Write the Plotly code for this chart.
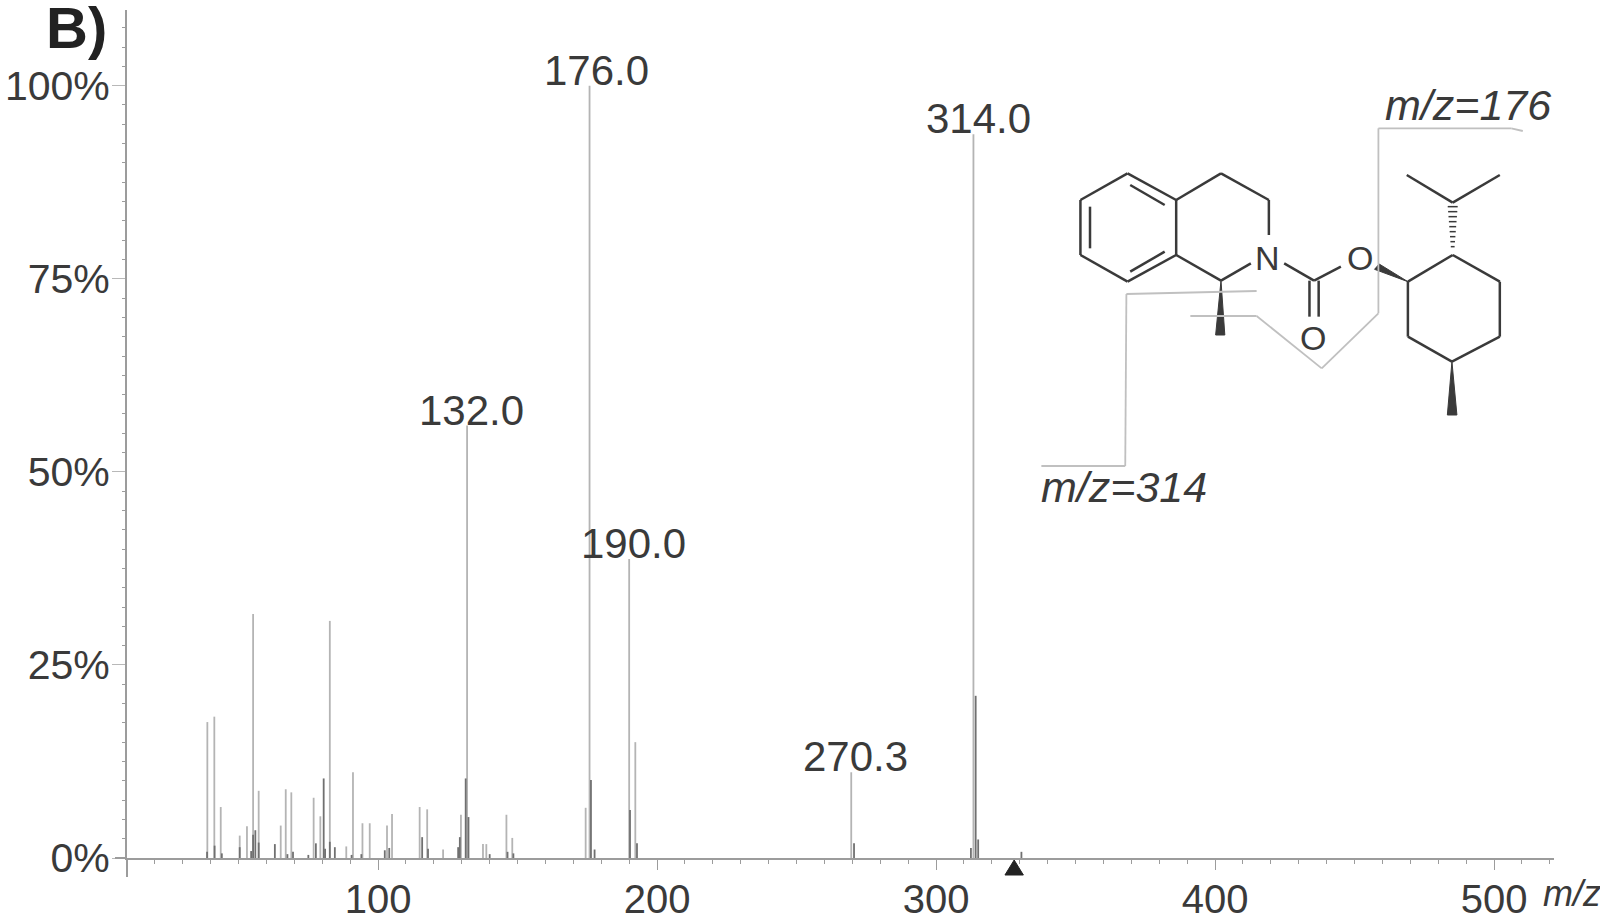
import plotly.graph_objects as go

# peaks: m/z and relative intensity (%)
light_mz = [38.8, 41.3, 43.6, 50.4, 53.0, 55.2, 57.2, 65.1, 66.9, 68.9, 76.9, 79.3, 82.7, 88.6, 91.0, 94.4, 97.0,
            103.2, 105.0, 114.9, 117.6, 123.3, 129.7, 131.9, 137.6, 138.8, 146.0, 148.1, 174.4, 175.8, 190.0, 192.2,
            269.6, 313.4]
light_int = [17.6, 18.3, 6.6, 2.9, 4.1, 31.6, 8.7, 4.2, 8.9, 8.5, 7.8, 5.4, 30.7, 1.5, 11.1, 4.5, 4.5,
             4.2, 5.7, 6.6, 6.3, 1.1, 5.6, 56.0, 1.8, 1.8, 5.6, 2.6, 6.5, 100.0, 38.7, 15.0,
             11.1, 93.7]
dark_mz = [38.7, 41.4, 44.0, 50.4, 54.5, 55.2, 56.0, 57.2, 63.0, 67.5, 69.5, 75.0, 77.7, 80.5, 81.0, 82.7, 84.5,
           90.5, 94.0, 102.4, 104.0, 115.8, 117.9, 128.7, 129.3, 131.4, 132.4, 140.0, 146.4, 148.5,
           176.3, 177.6, 190.3, 192.8, 270.6, 312.5, 314.2, 315.1, 330.6]
dark_int = [0.8, 1.6, 0.6, 1.4, 0.9, 3.0, 3.6, 2.0, 1.8, 0.5, 0.8, 0.4, 1.9, 10.3, 1.2, 2.1, 1.4,
            0.4, 0.5, 1.0, 1.3, 2.7, 1.2, 1.4, 2.7, 10.3, 5.3, 0.5, 0.8, 0.6,
            10.1, 1.1, 6.2, 1.9, 1.9, 1.3, 21.0, 2.4, 0.8]

label_mz = [132.0, 176.8, 190.0, 269.6, 313.7]
label_int = [56.0, 100.0, 38.7, 11.1, 93.7]
label_text = ["132.0", "176.0", "190.0", "270.3", "314.0"]

y_ticks = [0, 25, 50, 75, 100]
y_tick_text = ["0%", "25%", "50%", "75%", "100%"]
x_ticks = [100, 200, 300, 400, 500]

precursor_mz = 328.0

W, H = 1600, 913
INK = "#3a3a3a"
AXIS = "#9c9c9c"
LEADER = "#c0c0c0"


def sticks(xs, ys):
    px, py = [], []
    for x, y in zip(xs, ys):
        px += [x, x, None]
        py += [0, y, None]
    return px, py


def zx(v):
    # structure sketch is measured off the crop starting at (1000, 70)
    return (1000 + v * 0.383) / W


def zy(v):
    return 1 - (70 + v / 3) / H


def polyline(fig, pts, color=INK, width=2.5):
    for a, b in zip(pts[:-1], pts[1:]):
        fig.add_shape(type="line", xref="paper", yref="paper", x0=zx(a[0]), y0=zy(a[1]), x1=zx(b[0]), y1=zy(b[1]),
                      line=dict(color=color, width=width))


def wedge(fig, pts):
    d = "M " + " L ".join(f"{zx(x)} {zy(y)}" for x, y in pts) + " Z"
    fig.add_shape(type="path", xref="paper", yref="paper", path=d, fillcolor=INK, line=dict(color=INK, width=1))


fig = go.Figure()

x, y = sticks(light_mz, light_int)
fig.add_trace(go.Scatter(x=x, y=y, mode="lines", line=dict(color="#b4b4b4", width=1.8), hoverinfo="skip"))
x, y = sticks(dark_mz, dark_int)
fig.add_trace(go.Scatter(x=x, y=y, mode="lines", line=dict(color="#707070", width=1.8), hoverinfo="skip"))

fig.update_layout(
    width=W, height=H, showlegend=False, plot_bgcolor="white", paper_bgcolor="white",
    margin=dict(l=0, r=0, t=0, b=0), autosize=False,
    font=dict(family="Liberation Sans", size=41, color=INK),
    xaxis=dict(domain=[127 / W, 1554 / W], range=[10, 521.5], showgrid=False, zeroline=False, showline=True,
               automargin=False,
               linecolor=AXIS, linewidth=2, tickvals=x_ticks, ticks="outside", ticklen=10, tickcolor=AXIS, tickwidth=1,
               ticklabelstandoff=-5, tickfont=dict(size=40),
               minor=dict(dtick=10, tick0=0, ticks="outside", ticklen=4, tickcolor=AXIS, tickwidth=1)),
    yaxis=dict(domain=[1 - 858 / H, 1 - 10 / H], range=[0, 109.8], showgrid=False, zeroline=False, showline=True,
               automargin=False,
               linecolor=AXIS, linewidth=2, tickvals=y_ticks, ticktext=y_tick_text, ticks="outside", ticklen=13,
               tickcolor="#b8b8b8", tickwidth=1, ticklabelstandoff=-6,
               minor=dict(dtick=2.5, tick0=0, ticks="outside", ticklen=3, tickcolor=AXIS, tickwidth=1)),
)

# axis stubs past the origin
fig.add_shape(type="line", xref="paper", yref="paper", x0=127 / W, x1=127 / W, y0=1 - 858 / H, y1=1 - 877 / H,
              line=dict(color=AXIS, width=2))
fig.add_shape(type="line", xref="paper", yref="paper", x0=115 / W, x1=127 / W, y0=1 - 858 / H, y1=1 - 858 / H,
              line=dict(color=AXIS, width=2))

# precursor marker under the axis
fig.add_shape(type="path", xref="x", yref="paper", fillcolor="#222222", line=dict(color="#222222", width=1),
              path=f"M {precursor_mz - 3.3} {1 - 875 / H} L {precursor_mz} {1 - 860 / H} L {precursor_mz + 3.3} {1 - 875 / H} Z")

for mz, val, txt in zip(label_mz, label_int, label_text):
    fig.add_annotation(x=mz, y=val, text=txt, showarrow=False, xanchor="center", yanchor="bottom",
                       xshift=4, yshift=-10, font=dict(size=42, color=INK))

# structure: aromatic ring and fused ring
polyline(fig, [(333, 310), (460, 390), (460, 555), (333, 635), (210, 555), (210, 390), (333, 310)])
polyline(fig, [(340, 345), (430, 405)])
polyline(fig, [(235, 410), (235, 535)])
polyline(fig, [(340, 605), (430, 545)])
polyline(fig, [(460, 390), (577, 310), (702, 390), (702, 495)])
polyline(fig, [(655, 580), (577, 632), (460, 555)])
# carbamate
polyline(fig, [(742, 580), (820, 632), (890, 590)])
polyline(fig, [(808, 632), (808, 740)])
polyline(fig, [(832, 632), (832, 740)])
# menthyl ring
polyline(fig, [(1065, 635), (1182, 555), (1305, 635), (1305, 800), (1180, 875), (1065, 800), (1065, 635)])
polyline(fig, [(1062, 315), (1182, 398), (1305, 315)])
wedge(fig, [(978, 598), (990, 582), (1065, 635)])
wedge(fig, [(1180, 875), (1168, 1035), (1193, 1035)])
wedge(fig, [(577, 632), (563, 795), (587, 795)])
for i in range(9):
    hy = 410 + i * 15
    half = 13 - i
    polyline(fig, [(1182 - half, hy), (1182 + half, hy)], width=1.5)

# fragmentation leaders
polyline(fig, [(1365, 183), (1335, 175), (988, 175), (988, 730), (840, 895), (670, 738), (497, 738)], LEADER, 1.8)
polyline(fig, [(670, 663), (330, 672), (327, 1188), (108, 1188)], LEADER, 1.8)

for txt, ax, ay in [("N", 698, 565), ("O", 940, 565), ("O", 818, 805)]:
    fig.add_annotation(xref="paper", yref="paper", x=zx(ax), y=zy(ay), text=txt, showarrow=False,
                       xanchor="center", yanchor="middle", font=dict(size=34, color=INK))
for txt, ax, ay in [("m/z=176", 1222, 105), ("m/z=314", 325, 1250)]:
    fig.add_annotation(xref="paper", yref="paper", x=zx(ax), y=zy(ay), text=f"<i>{txt}</i>", showarrow=False,
                       xanchor="center", yanchor="middle", font=dict(size=43, color=INK))

fig.add_annotation(xref="paper", yref="paper", x=1541 / W, y=1 - 893 / H, text="<i>m/z</i>", showarrow=False,
                   xanchor="left", yanchor="middle", font=dict(size=36, color=INK))
fig.add_annotation(xref="paper", yref="paper", x=44 / W, y=1 - 62 / H, text="<b>B)</b>", showarrow=False,
                   xanchor="left", yanchor="bottom", font=dict(size=58, color="#222222"))

# browser default body margin would push the chart 8px in
fig.write_html("out.html", config={"displayModeBar": False}, post_script="document.body.style.margin = '0';")
